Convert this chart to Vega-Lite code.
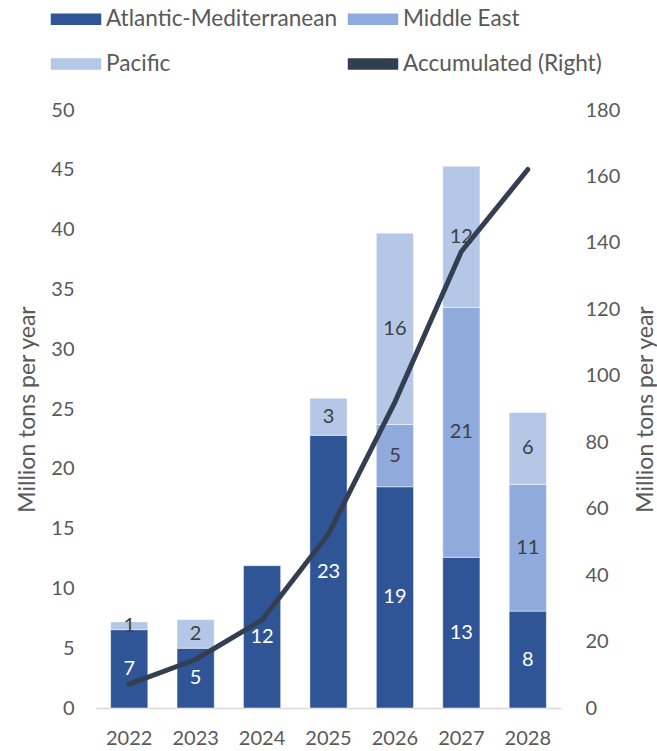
{
  "$schema": "https://vega.github.io/schema/vega-lite/v6.json",
  "autosize": {"type": "none"},
  "width": 465,
  "height": 598,
  "padding": {"left": 96, "top": 110, "right": 96, "bottom": 43},
  "config": {
    "view": {"stroke": null},
    "font": "Lato",
    "axis": {"labelFont": "Lato", "titleFont": "Lato", "labelColor": "#595959", "titleColor": "#595959", "labelFontSize": 20, "titleFontSize": 23, "titleFontWeight": "normal", "grid": false, "ticks": false},
    "legend": {"labelFont": "Lato", "labelColor": "#595959", "labelFontSize": 22.6, "labelLimit": 400}
  },
  "datasets": {
    "supply": [
      {"year": "2022", "region": "Atlantic-Mediterranean", "value": 6.55},
      {"year": "2022", "region": "Pacific", "value": 0.65},
      {"year": "2023", "region": "Atlantic-Mediterranean", "value": 5.0},
      {"year": "2023", "region": "Pacific", "value": 2.4},
      {"year": "2024", "region": "Atlantic-Mediterranean", "value": 11.9},
      {"year": "2025", "region": "Atlantic-Mediterranean", "value": 22.8},
      {"year": "2025", "region": "Pacific", "value": 3.1},
      {"year": "2026", "region": "Atlantic-Mediterranean", "value": 18.5},
      {"year": "2026", "region": "Middle East", "value": 5.2},
      {"year": "2026", "region": "Pacific", "value": 16.0},
      {"year": "2027", "region": "Atlantic-Mediterranean", "value": 12.6},
      {"year": "2027", "region": "Middle East", "value": 20.9},
      {"year": "2027", "region": "Pacific", "value": 11.8},
      {"year": "2028", "region": "Atlantic-Mediterranean", "value": 8.1},
      {"year": "2028", "region": "Middle East", "value": 10.6},
      {"year": "2028", "region": "Pacific", "value": 6.0}
    ],
    "accumulated": [
      {"year": "2022", "total": 7.2},
      {"year": "2023", "total": 14.6},
      {"year": "2024", "total": 26.5},
      {"year": "2025", "total": 52.4},
      {"year": "2026", "total": 92.1},
      {"year": "2027", "total": 137.4},
      {"year": "2028", "total": 162.1}
    ]
  },
  "encoding": {
    "x": {
      "field": "year",
      "type": "ordinal",
      "scale": {"paddingInner": 0.44, "paddingOuter": 0.22},
      "axis": {"title": null, "labelAngle": 0, "labelPadding": 20, "domainColor": "#d9d9d9", "domainWidth": 1.5}
    }
  },
  "layer": [
    {
      "data": {"name": "supply"},
      "transform": [
        {"stack": "value", "groupby": ["year"], "sort": [{"field": "region"}], "as": ["y0", "y1"]}
      ],
      "layer": [
        {
          "mark": {"type": "bar", "stroke": "white", "strokeWidth": 0.8, "strokeOpacity": 0.6},
          "encoding": {
            "y": {
              "field": "y0",
              "type": "quantitative",
              "scale": {"domain": [0, 50], "nice": false},
              "axis": {"title": "Million tons per year", "values": [0, 5, 10, 15, 20, 25, 30, 35, 40, 45, 50], "domain": false, "labelPadding": 22, "titleX": -69, "titleBaseline": "middle", "titleAngle": 270}
            },
            "y2": {"field": "y1"},
            "color": {
              "field": "region",
              "type": "nominal",
              "scale": {
                "domain": ["Atlantic-Mediterranean", "Middle East", "Pacific", "Accumulated (Right)"],
                "range": ["#2F5597", "#8FAADC", "#B4C7E7", "#333F50"]
              },
              "legend": {
                "title": null,
                "orient": "none",
                "direction": "horizontal",
                "legendX": -47,
                "legendY": -118,
                "columns": 2,
                "columnPadding": 6,
                "rowPadding": 6,
                "labelOffset": 3,
                "symbolType": "M-1,-0.25L1,-0.25L1,0.25L-1,0.25Z",
                "symbolSize": 2704,
                "encode": {
                  "symbols": {
                    "update": {
                      "shape": [
                        {"test": "datum.value === 'Accumulated (Right)'", "value": "stroke"},
                        {"value": "M-1,-0.25L1,-0.25L1,0.25L-1,0.25Z"}
                      ],
                      "fill": [
                        {"test": "datum.value === 'Accumulated (Right)'", "value": "transparent"},
                        {"scale": "color", "field": "value"}
                      ],
                      "stroke": [
                        {"test": "datum.value === 'Accumulated (Right)'", "value": "#333F50"},
                        {"value": "transparent"}
                      ],
                      "strokeWidth": {"value": 5},
                      "strokeCap": {"value": "round"}
                    }
                  }
                }
              }
            }
          }
        },
        {
          "transform": [{"calculate": "(datum.y0 + datum.y1) / 2", "as": "ymid"}],
          "mark": {"type": "text", "fontSize": 20, "baseline": "middle", "align": "center"},
          "encoding": {
            "y": {"field": "ymid", "type": "quantitative"},
            "text": {"field": "value", "type": "quantitative", "format": ".0f"},
            "color": {
              "condition": {"test": "datum.region === 'Atlantic-Mediterranean'", "value": "#FFFFFF"},
              "value": "#404040"
            }
          }
        }
      ]
    },
    {
      "data": {"name": "accumulated"},
      "mark": {"type": "line", "color": "#333F50", "strokeWidth": 5, "strokeCap": "round", "strokeJoin": "round"},
      "encoding": {
        "y": {
          "field": "total",
          "type": "quantitative",
          "scale": {"domain": [0, 180], "nice": false},
          "axis": {"orient": "right", "title": "Million tons per year", "values": [0, 20, 40, 60, 80, 100, 120, 140, 160, 180], "domain": false, "labelPadding": 24, "titleX": 84, "titleBaseline": "middle", "titleAngle": 270}
        }
      }
    }
  ],
  "resolve": {"scale": {"y": "independent"}}
}
